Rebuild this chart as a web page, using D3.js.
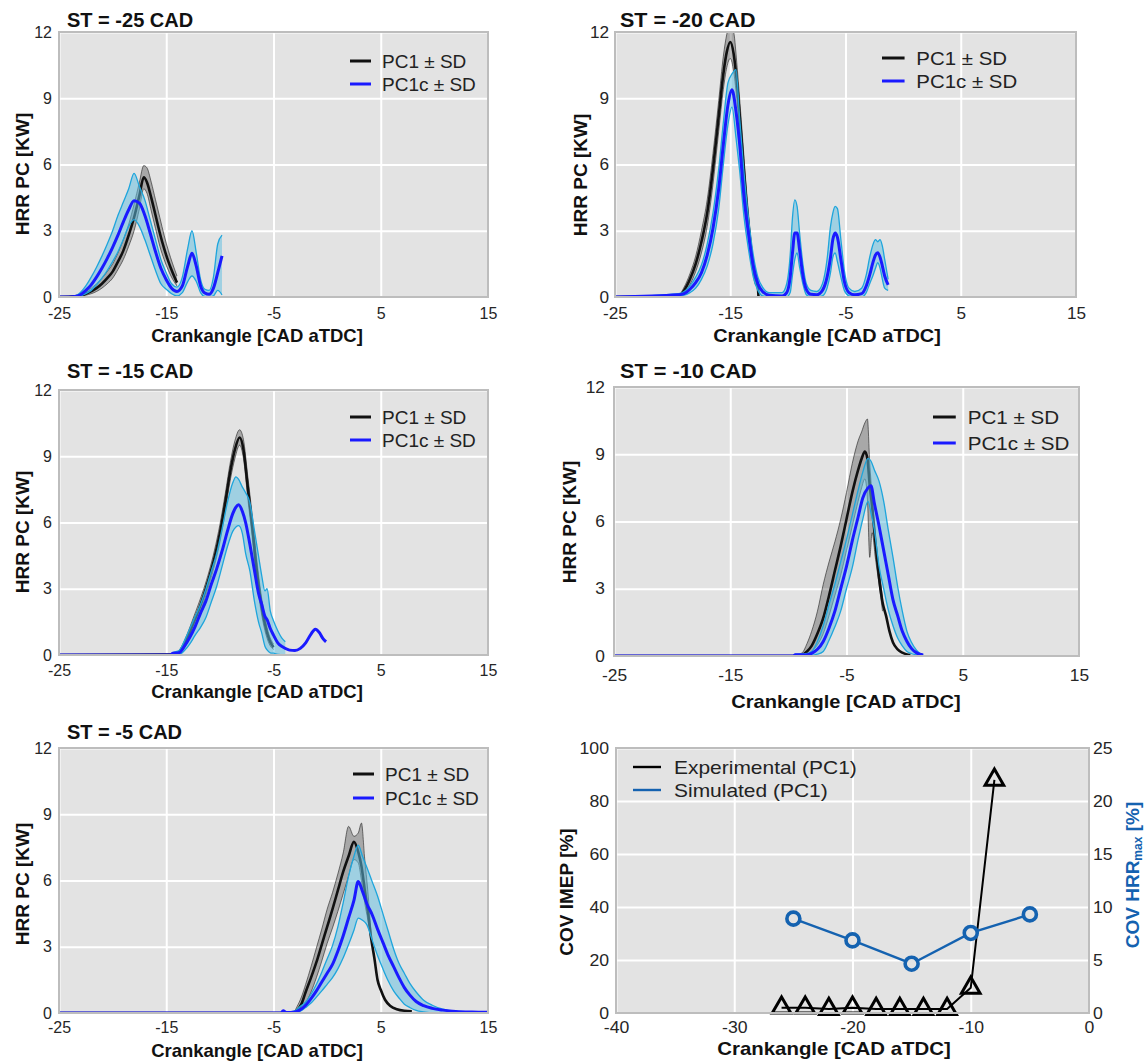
<!DOCTYPE html>
<html>
<head>
<meta charset="utf-8">
<script src="https://d3js.org/d3.v7.min.js"></script>
<style>
  body { margin: 0; background: #fff; }
  svg text { font-family: "Liberation Sans", Arial, sans-serif; }
</style>
</head>
<body>
<svg id="fig" width="1148" height="1062"></svg>
<script>
// ---- tick values / labels ----
const hrrTicksX = [-25, -15, -5, 5, 15];
const hrrTicksY = [0, 3, 6, 9, 12];
const covTicksX = [-40, -30, -20, -10, 0];
const covTicksL = [0, 20, 40, 60, 80, 100];
const covTicksR = [0, 5, 10, 15, 20, 25];
const stTitles = ["ST = -25 CAD", "ST = -20 CAD", "ST = -15 CAD", "ST = -10 CAD", "ST = -5 CAD"];
const hrrLegend = ["PC1 \u00b1 SD", "PC1c \u00b1 SD"];
const covLegend = ["Experimental (PC1)", "Simulated (PC1)"];

// ---- ST = -25 ----
const x25a = [-25, -23.5, -22.5, -21.5, -21, -20.5, -20, -19.5, -19, -18.5, -18, -17.5, -17.1, -16.8, -16.4, -16, -15.6, -15.2, -14.8, -14.4, -14];
const mean25a = [0, 0.03, 0.15, 0.4, 0.6, 0.85, 1.15, 1.6, 2.1, 2.8, 3.6, 4.6, 5.42, 5.2, 4.5, 3.7, 2.9, 2.2, 1.6, 1.1, 0.65];
const hi25a = [0, 0.05, 0.25, 0.6, 0.85, 1.15, 1.5, 2.0, 2.6, 3.3, 4.2, 5.2, 5.95, 5.85, 5.2, 4.4, 3.6, 2.8, 2.1, 1.5, 0.95];
const lo25a = [0, 0.01, 0.08, 0.25, 0.4, 0.6, 0.85, 1.25, 1.7, 2.3, 3.0, 4.0, 4.9, 4.7, 3.9, 3.1, 2.3, 1.7, 1.2, 0.8, 0.5];
const x25c = [-25, -24, -23.5, -23, -22.5, -22, -21.5, -21, -20.5, -20, -19.5, -19, -18.5, -18, -17.5, -17, -16.5, -16, -15.5, -15, -14.5, -14, -13.5, -13, -12.6, -12.2, -11.8, -11.4, -11, -10.6, -10.2, -9.8];
const mean25c = [0, 0, 0.02, 0.1, 0.3, 0.55, 0.9, 1.3, 1.75, 2.25, 2.8, 3.4, 3.95, 4.36, 4.25, 3.7, 2.9, 2.05, 1.3, 0.78, 0.4, 0.25, 0.5, 1.4, 1.98, 1.4, 0.5, 0.18, 0.12, 0.4, 1.1, 1.86];
const hi25c = [0, 0, 0.04, 0.2, 0.5, 0.9, 1.35, 1.85, 2.4, 3.0, 3.7, 4.3, 4.9, 5.6, 5.0, 4.4, 3.5, 2.6, 1.7, 1.1, 0.6, 0.45, 0.9, 2.2, 3.0, 2.0, 0.8, 0.35, 0.3, 0.9, 2.4, 2.8];
const lo25c = [0, 0, 0.01, 0.05, 0.15, 0.3, 0.55, 0.85, 1.2, 1.6, 2.05, 2.6, 3.2, 3.5, 3.2, 2.6, 1.9, 1.2, 0.6, 0.35, 0.15, 0.05, 0.2, 0.7, 0.95, 0.7, 0.2, 0.02, 0, 0.05, 0.3, 0.1];

// ---- ST = -20 ----
const x20a = [-25, -19.5, -19, -18.5, -18, -17.5, -17, -16.5, -16, -15.6, -15.3, -15, -14.7, -14.4, -14, -13.6, -13.2, -12.9, -12.6, -12.55];
const mean20a = [0, 0.05, 0.3, 0.8, 1.5, 2.5, 3.8, 5.8, 8.2, 10.1, 11.1, 11.55, 11.0, 9.6, 7.0, 4.3, 2.2, 1.0, 0.45, 0];
const hi20a = [0, 0.08, 0.45, 1.05, 1.85, 3.0, 4.4, 6.5, 8.9, 10.9, 11.9, 12.4, 12.0, 10.4, 7.7, 4.9, 2.6, 1.3, 0.6, 0];
const lo20a = [0, 0.02, 0.18, 0.55, 1.15, 2.0, 3.2, 5.1, 7.5, 9.4, 10.4, 10.8, 10.2, 8.8, 6.3, 3.7, 1.8, 0.7, 0.3, 0];
const x20c = [-25, -19.5, -19, -18.5, -18, -17.5, -17, -16.5, -16, -15.6, -15.2, -14.85, -14.5, -14.2, -13.8, -13.4, -13.0, -12.6, -12.2, -11.6,
  -10.5, -10.1, -9.8, -9.6, -9.4, -9.2, -9.0, -8.7, -8.4, -8.0,
  -7.5, -7.0, -6.6, -6.3, -6.1, -5.9, -5.7, -5.4, -5.1, -4.7,
  -4.2, -3.6, -3.2, -2.9, -2.6, -2.4, -2.2, -2.0, -1.8, -1.6, -1.3];
const mean20c = [0, 0.1, 0.15, 0.35, 0.65, 1.1, 1.9, 3.1, 4.9, 6.9, 8.7, 9.38, 8.4, 7.0, 4.5, 2.8, 1.4, 0.6, 0.25, 0.08,
  0.05, 0.2, 0.9, 2.0, 2.9, 2.9, 2.2, 1.0, 0.35, 0.12,
  0.1, 0.3, 0.9, 1.8, 2.6, 2.9, 2.7, 1.7, 0.7, 0.2,
  0.1, 0.15, 0.5, 1.0, 1.6, 1.9, 2.0, 1.8, 1.4, 0.95, 0.55];
const hi20c = [0, 0.15, 0.25, 0.5, 0.9, 1.45, 2.4, 3.8, 5.8, 7.9, 9.7, 10.1, 10.3, 8.2, 5.6, 3.5, 1.9, 0.9, 0.45, 0.2,
  0.2, 0.6, 1.9, 3.6, 4.4, 4.1, 3.0, 1.5, 0.6, 0.3,
  0.25, 0.6, 1.7, 3.2, 3.8, 4.1, 4.0, 2.6, 1.2, 0.4,
  0.25, 0.4, 1.0, 1.8, 2.4, 2.6, 2.5, 2.6, 2.3, 1.7, 0.8];
const lo20c = [0, 0.05, 0.08, 0.2, 0.4, 0.8, 1.4, 2.4, 4.0, 6.0, 7.8, 8.6, 7.2, 5.8, 3.6, 2.1, 0.9, 0.3, 0.05, 0,
  0, 0, 0.2, 1.0, 1.7, 2.0, 1.4, 0.6, 0.1, 0,
  0, 0.05, 0.4, 1.1, 1.8, 2.0, 1.6, 0.9, 0.3, 0.05,
  0, 0, 0.2, 0.6, 1.0, 1.3, 1.55, 1.3, 0.8, 0.4, 0.3];

// ---- ST = -15 ----
const x15a = [-25, -14.2, -13.5, -13, -12.5, -12, -11.5, -11, -10.5, -10, -9.5, -9, -8.6, -8.16, -7.8, -7.4, -7, -6.6, -6.2, -5.8, -5.4, -5.0];
const mean15a = [0, 0.02, 0.3, 0.8, 1.4, 2.0, 2.7, 3.5, 4.4, 5.5, 6.9, 8.4, 9.3, 9.85, 9.3, 7.6, 5.9, 4.0, 2.5, 1.4, 0.7, 0.35];
const hi15a = [0, 0.04, 0.45, 1.0, 1.65, 2.3, 3.0, 3.8, 4.75, 5.9, 7.3, 8.8, 9.7, 10.2, 9.75, 8.1, 6.4, 4.5, 2.9, 1.7, 0.9, 0.5];
const lo15a = [0, 0.01, 0.18, 0.6, 1.15, 1.7, 2.4, 3.2, 4.05, 5.1, 6.5, 8.0, 8.9, 9.5, 8.9, 7.1, 5.4, 3.5, 2.1, 1.1, 0.5, 0.25];
const x15c = [-25, -14.6, -14.4, -13.8, -13.3, -12.8, -12.3, -11.8, -11.3, -10.8,
  -10.3, -9.8, -9.3, -8.8, -8.5, -8.25, -7.9, -7.6, -7.2, -6.8,
  -6.4, -6.1, -5.8, -5.6, -5.3, -5.0, -4.6, -4.2, -3.9, -3.5,
  -3.0, -2.5, -2.0, -1.5, -1.1, -0.7, -0.4, -0.1];
const mean15c = [0, 0, 0.08, 0.1, 0.4, 0.8, 1.3, 1.9, 2.45, 3.2,
  3.9, 4.7, 5.6, 6.4, 6.7, 6.8, 6.5, 6.0, 5.0, 3.9,
  2.8, 2.3, 1.75, 1.6, 1.2, 0.9, 0.55, 0.38, 0.3, 0.22,
  0.2, 0.3, 0.55, 0.95, 1.17, 1.0, 0.75, 0.6];
const hi15c = [0, 0, 0.1, 0.2, 0.65, 1.2, 1.75, 2.3, 3.0, 3.8,
  4.6, 5.7, 6.9, 7.8, 8.07, 7.95, 7.6, 7.35, 6.9, 5.7,
  4.5, 3.6, 2.9, 3.0, 2.0, 1.55, 1.1, 0.75, 0.6, null,
  null, null, null, null, null, null, null, null];
const lo15c = [0, 0, 0.05, 0.03, 0.2, 0.5, 0.9, 1.25, 1.7, 2.4,
  3.1, 4.0, 4.9, 5.6, 5.8, 5.86, 5.5, 4.6, 3.8, 2.5,
  1.5, 1.0, 0.4, 0.23, 0.1, 0.08, 0.03, 0, 0, null,
  null, null, null, null, null, null, null, null];

// ---- ST = -10 ----
const x10a = [-25, -9.5, -8.8, -8.4, -8.0, -7.5, -7.0, -6.5, -6.0, -5.5,
  -5.0, -4.5, -4.0, -3.7, -3.42, -3.2, -3.0, -2.8, -2.5, -2.2,
  -1.9, -1.6, -1.3, -1.0, -0.6, -0.2, 0.2, 0.5];
const mean10a = [0, 0, 0.05, 0.2, 0.45, 1.0, 1.7, 2.7, 3.8, 4.9,
  6.1, 7.3, 8.3, 8.8, 9.12, 8.8, 7.6, 6.7, 5.0, 3.5,
  2.4, 1.8, 1.1, 0.6, 0.3, 0.15, 0.07, 0.05];
const hi10a = [0, 0, 0.15, 0.55, 1.1, 2.0, 3.2, 4.2, 5.1, 6.1,
  7.3, 8.6, 9.6, 10.0, 10.4, 10.57, 8.6, 7.2, 5.3, 3.9,
  2.6, null, null, null, null, null, null, null];
const lo10a = [0, 0, 0, 0.05, 0.2, 0.5, 1.0, 1.8, 2.7, 3.6,
  4.7, 5.8, 6.9, 7.5, 7.9, 7.0, 4.4, 5.5, 4.3, 3.2,
  2.0, null, null, null, null, null, null, null];
const x10c = [-25, -9.6, -9.4, -8.5, -8.0, -7.5, -7.0, -6.5, -6.0, -5.5,
  -5.0, -4.5, -4.0, -3.6, -3.15, -2.9, -2.6, -2.2, -1.8, -1.4,
  -1.0, -0.6, -0.2, 0.2, 0.6, 1.0, 1.3, 1.6];
const mean10c = [0, 0, 0.06, 0.05, 0.12, 0.3, 0.65, 1.25, 2.0, 3.0,
  4.0, 5.15, 6.2, 7.05, 7.5, 7.6, 6.8, 5.8, 4.7, 3.6,
  2.5, 1.8, 1.1, 0.65, 0.33, 0.15, 0.08, 0.05];
const hi10c = [0, 0, 0.08, 0.1, 0.2, 0.65, 1.35, 2.3, 3.2, 4.2,
  5.2, 6.3, 7.4, 8.2, 8.82, 8.7, 8.3, 7.8, 6.9, 5.6,
  4.4, 3.1, 2.0, 1.1, 0.6, 0.27, 0.12, 0.05];
const lo10c = [0, 0, 0.04, 0.02, 0.03, 0.08, 0.2, 0.7, 1.3, 2.0,
  3.0, 3.95, 5.2, 6.1, 6.9, 6.4, 5.6, 4.0, 3.0, 2.05,
  1.35, 0.8, 0.45, 0.2, 0.1, 0.05, 0.03, 0];

// ---- ST = -5 ----
const x5a = [-25, -3.2, -2.8, -2.4, -2.0, -1.5, -1.0, -0.5, 0, 0.5,
  1.0, 1.5, 2.0, 2.5, 2.9, 3.2, 3.5, 3.8, 4.1, 4.4,
  4.7, 5.0, 5.4, 5.9, 6.5, 7.2, 7.9];
const mean5a = [0, 0, 0.12, 0.4, 0.95, 1.6, 2.3, 3.1, 3.9, 4.7,
  5.55, 6.4, 7.1, 7.75, 7.3, 6.65, 5.6, 4.6, 3.4, 2.5,
  1.5, 1.05, 0.6, 0.32, 0.17, 0.1, 0.08];
const hi5a = [0, 0, 0.3, 0.72, 1.3, 2.1, 2.95, 3.8, 4.7, 5.45,
  6.3, 7.25, 8.45, 8.0, 8.15, 8.6, 7.0, 5.5, 3.6, null,
  null, null, null, null, null, null, null];
const lo5a = [0, 0, 0.05, 0.2, 0.45, 0.95, 1.6, 2.35, 3.15, 3.85,
  4.6, 5.4, 6.2, 6.95, 6.8, 6.0, 5.0, 4.2, 3.3, null,
  null, null, null, null, null, null, null];
const x5c = [-25, -4.3, -4.1, -3.8, -3.0, -2.5, -2.0, -1.5, -1.0, -0.5,
  0, 0.5, 1.0, 1.5, 2.0, 2.5, 2.9, 3.3, 3.7, 4.2,
  4.7, 5.2, 5.7, 6.2, 6.7, 7.2, 7.7, 8.3, 9.0, 9.8,
  10.8, 12, 13.5, 15];
const mean5c = [0, 0, 0.1, 0.02, 0.05, 0.15, 0.35, 0.65, 1.0, 1.4,
  1.8, 2.2, 2.8, 3.5, 4.3, 5.1, 5.95, 5.5, 4.95, 4.45,
  3.8, 3.2, 2.6, 2.1, 1.6, 1.15, 0.82, 0.52, 0.33, 0.21,
  0.13, 0.07, 0.04, 0.03];
const hi5c = [0, 0, 0.1, 0.04, 0.1, 0.3, 0.5, 0.85, 1.3, 1.85,
  2.45, 3.05, 3.9, 5.0, 6.2, 7.1, 7.6, 7.1, 6.6, 5.95,
  5.3, 4.5, 3.7, 2.9, 2.25, 1.8, 1.35, 0.95, 0.58, 0.35,
  0.17, 0.08, 0.05, 0.04];
const lo5c = [0, 0, 0.05, 0, 0.02, 0.08, 0.25, 0.45, 0.72, 1.0,
  1.3, 1.6, 2.0, 2.5, 3.1, 3.75, 4.3, 4.2, 4.0, 3.3,
  2.6, 2.0, 1.45, 1.0, 0.68, 0.4, 0.25, 0.12, 0.05, 0,
  0, 0, 0, 0];

// ---- COV panel ----
const expX = [-26, -24, -22, -20, -18, -16, -14, -12, -10, -8];
const expCov = [2, 2, 1.5, 2, 1.5, 1.5, 1.5, 1.5, 9.5, 88];
const simX = [-25, -20, -15, -10, -5];
const simCov = [8.9, 6.85, 4.65, 7.55, 9.3];

const BG = "#e3e3e3";
const FRAME = "#bdbdbd";
const SIM_BLUE = "#1462b0";

const svg = d3.select("#fig");
let clipCount = 0;

const hrrPanels = [
  { title: stTitles[0], left: 59, right: 488, top: 32, bottom: 297, tx: 67, ty: 27, ylx: 29, yly: 174, xlx: 257, xly: 342, xpad: 11, ypad: 7, lgx: 350, lgy: 61, lgdy: 23,
    pc1: { x: x25a, mean: mean25a, lo: lo25a, hi: hi25a }, pc1c: { x: x25c, mean: mean25c, lo: lo25c, hi: hi25c } },
  { title: stTitles[1], left: 615, right: 1076, top: 32, bottom: 297, tx: 620, ty: 27, ylx: 587, yly: 175, xlx: 827, xly: 342, xpad: 11, ypad: 6, lgx: 882, lgy: 58, lgdy: 23,
    pc1: { x: x20a, mean: mean20a, lo: lo20a, hi: hi20a }, pc1c: { x: x20c, mean: mean20c, lo: lo20c, hi: hi20c } },
  { title: stTitles[2], left: 59, right: 488, top: 390, bottom: 655, tx: 67, ty: 378, ylx: 29, yly: 532, xlx: 257, xly: 698, xpad: 10, ypad: 7, lgx: 350, lgy: 417, lgdy: 23,
    pc1: { x: x15a, mean: mean15a, lo: lo15a, hi: hi15a }, pc1c: { x: x15c, mean: mean15c, lo: lo15c, hi: hi15c } },
  { title: stTitles[3], left: 614, right: 1079, top: 387, bottom: 656, tx: 620, ty: 378, ylx: 576, yly: 522, xlx: 846, xly: 708, xpad: 14, ypad: 9, lgx: 933, lgy: 417, lgdy: 26,
    pc1: { x: x10a, mean: mean10a, lo: lo10a, hi: hi10a }, pc1c: { x: x10c, mean: mean10c, lo: lo10c, hi: hi10c } },
  { title: stTitles[4], left: 59, right: 488, top: 748, bottom: 1013, tx: 67, ty: 739, ylx: 29, yly: 884, xlx: 257, xly: 1057, xpad: 9, ypad: 7, lgx: 353, lgy: 774, lgdy: 24,
    pc1: { x: x5a, mean: mean5a, lo: lo5a, hi: hi5a }, pc1c: { x: x5c, mean: mean5c, lo: lo5c, hi: hi5c } }
];

// widen text horizontally like the stretched right column of the figure
function widen(sel, k) {
  if (Math.abs(k - 1) < 0.01) return;
  sel.each(function () {
    const w = this.getComputedTextLength();
    d3.select(this).attr("textLength", w * k).attr("lengthAdjust", "spacingAndGlyphs");
  });
}

function styleAxis(a, size) {
  a.select(".domain").remove();
  a.selectAll(".tick line").attr("stroke", "#fff").attr("stroke-width", 2);
  a.selectAll(".tick text").attr("fill", "#262626").attr("font-size", size)
    .attr("font-family", "'Liberation Sans', Arial, sans-serif");
}

function plotBox(g, p) {
  g.append("rect").attr("x", p.left).attr("y", p.top)
    .attr("width", p.right - p.left).attr("height", p.bottom - p.top).attr("fill", BG);
}

function frame(g, p) {
  g.append("rect").attr("x", p.left).attr("y", p.top)
    .attr("width", p.right - p.left).attr("height", p.bottom - p.top)
    .attr("fill", "none").attr("stroke", FRAME).attr("stroke-width", 2);
}

function clipGroup(g, p) {
  const id = "clip" + (clipCount++);
  g.append("clipPath").attr("id", id).append("rect")
    .attr("x", p.left).attr("y", p.top).attr("width", p.right - p.left).attr("height", p.bottom - p.top);
  return g.append("g").attr("clip-path", "url(#" + id + ")");
}

function drawBand(plot, x, y, s, fill, edge, edgeW) {
  const band = s.x.map((v, i) => ({ x: v, lo: s.lo[i], hi: s.hi[i] })).filter(d => d.hi != null);
  plot.append("path").datum(band)
    .attr("d", d3.area().curve(d3.curveMonotoneX).x(d => x(d.x)).y0(d => y(d.lo)).y1(d => y(d.hi)))
    .attr("fill", fill);
  ["lo", "hi"].forEach(key => {
    plot.append("path").datum(band)
      .attr("d", d3.line().curve(d3.curveMonotoneX).x(d => x(d.x)).y(d => y(d[key])))
      .attr("fill", "none").attr("stroke", edge).attr("stroke-width", edgeW);
  });
}

function drawMean(plot, x, y, s, color, w) {
  const pts = s.x.map((v, i) => [v, s.mean[i]]);
  plot.append("path").datum(pts)
    .attr("d", d3.line().curve(d3.curveMonotoneX).x(d => x(d[0])).y(d => y(d[1])))
    .attr("fill", "none").attr("stroke", color).attr("stroke-width", w)
    .attr("stroke-linejoin", "round");
}

function drawHrr(p) {
  const g = svg.append("g");
  const w = p.right - p.left, h = p.bottom - p.top;
  const k = w / 429;
  const x = d3.scaleLinear().domain([-25, 15]).range([p.left, p.right]);
  const y = d3.scaleLinear().domain([0, 12]).range([p.bottom, p.top]);

  plotBox(g, p);
  const gx = g.append("g").attr("transform", `translate(0,${p.bottom})`)
    .call(d3.axisBottom(x).tickValues(hrrTicksX).tickSize(-h).tickPadding(p.xpad).tickFormat(d => d));
  const gy = g.append("g").attr("transform", `translate(${p.left},0)`)
    .call(d3.axisLeft(y).tickValues(hrrTicksY).tickSize(-w).tickPadding(p.ypad).tickFormat(d => d));
  styleAxis(gx, 16); styleAxis(gy, 16);
  widen(gx.selectAll(".tick text"), k);
  widen(gy.selectAll(".tick text"), k);

  const plot = clipGroup(g, p);
  drawBand(plot, x, y, p.pc1, "rgba(0,0,0,0.26)", "rgba(30,30,30,0.6)", 1);
  drawMean(plot, x, y, p.pc1, "#111", 2.6);
  drawBand(plot, x, y, p.pc1c, "rgba(95,190,225,0.52)", "#1ea5dc", 1.3);
  drawMean(plot, x, y, p.pc1c, "#1a1aff", 3);

  frame(g, p);

  // legend
  const legColors = ["#111", "#1a1aff"];
  hrrLegend.forEach((t, i) => {
    const yy = p.lgy + i * p.lgdy;
    g.append("line").attr("x1", p.lgx).attr("x2", p.lgx + 21 * k).attr("y1", yy).attr("y2", yy)
      .attr("stroke", legColors[i]).attr("stroke-width", 3);
    const tt = g.append("text").attr("x", p.lgx + 32 * k).attr("y", yy).attr("dy", "0.36em")
      .attr("font-size", 19).attr("fill", "#222").text(t);
    widen(tt, k);
  });

  const title = g.append("text").attr("x", p.tx).attr("y", p.ty).attr("font-size", 20)
    .attr("font-weight", "bold").attr("fill", "#111").text(p.title);
  widen(title, k);
  const xl = g.append("text").attr("x", p.xlx).attr("y", p.xly).attr("text-anchor", "middle")
    .attr("font-size", 18.5).attr("font-weight", "bold").attr("fill", "#111").text("Crankangle [CAD aTDC]");
  widen(xl, k);
  g.append("text").attr("transform", `translate(${p.ylx},${p.yly}) rotate(-90)`)
    .attr("text-anchor", "middle").attr("font-size", 19).attr("font-weight", "bold")
    .attr("fill", "#111").text("HRR PC [KW]");
}

function drawCov() {
  const p = { left: 616, right: 1089, top: 748, bottom: 1013 };
  const g = svg.append("g");
  const w = p.right - p.left, h = p.bottom - p.top;
  const k = w / 429;
  const x = d3.scaleLinear().domain([-40, 0]).range([p.left, p.right]);
  const yL = d3.scaleLinear().domain([0, 100]).range([p.bottom, p.top]);
  const yR = d3.scaleLinear().domain([0, 25]).range([p.bottom, p.top]);

  plotBox(g, p);
  const gx = g.append("g").attr("transform", `translate(0,${p.bottom})`)
    .call(d3.axisBottom(x).tickValues(covTicksX).tickSize(-h).tickPadding(9).tickFormat(d => d));
  const gy = g.append("g").attr("transform", `translate(${p.left},0)`)
    .call(d3.axisLeft(yL).tickValues(covTicksL).tickSize(-w).tickPadding(7).tickFormat(d => d));
  const gr = g.append("g").attr("transform", `translate(${p.right},0)`)
    .call(d3.axisRight(yR).tickValues(covTicksR).tickSize(0).tickPadding(4).tickFormat(d => d));
  styleAxis(gx, 16); styleAxis(gy, 16); styleAxis(gr, 16);
  gr.selectAll(".tick line").remove();
  widen(gx.selectAll(".tick text"), k);
  widen(gy.selectAll(".tick text"), k);
  widen(gr.selectAll(".tick text"), k);

  const plot = g.append("g");
  const exp = expX.map((v, i) => [v, expCov[i]]);
  const sim = simX.map((v, i) => [v, simCov[i]]);

  plot.append("path").datum(exp)
    .attr("d", d3.line().x(d => x(d[0])).y(d => yL(d[1])))
    .attr("fill", "none").attr("stroke", "#000").attr("stroke-width", 2);
  plot.selectAll(".tri").data(exp).join("path").attr("class", "tri")
    .attr("transform", d => `translate(${x(d[0])},${yL(d[1])})`)
    .attr("d", d3.symbol(d3.symbolTriangle, 150))
    .attr("fill", "none").attr("stroke", "#000").attr("stroke-width", 3)
    .attr("stroke-linejoin", "miter");

  plot.append("path").datum(sim)
    .attr("d", d3.line().x(d => x(d[0])).y(d => yR(d[1])))
    .attr("fill", "none").attr("stroke", SIM_BLUE).attr("stroke-width", 2.4);
  plot.selectAll(".circ").data(sim).join("circle").attr("class", "circ")
    .attr("cx", d => x(d[0])).attr("cy", d => yR(d[1])).attr("r", 6.5)
    .attr("fill", BG).attr("stroke", SIM_BLUE).attr("stroke-width", 3.6);

  frame(g, p);

  const legColors = ["#000", SIM_BLUE];
  covLegend.forEach((t, i) => {
    const yy = 767 + i * 23;
    g.append("line").attr("x1", 633).attr("x2", 661).attr("y1", yy).attr("y2", yy)
      .attr("stroke", legColors[i]).attr("stroke-width", 2.4);
    const tt = g.append("text").attr("x", 674).attr("y", yy).attr("dy", "0.36em")
      .attr("font-size", 19).attr("fill", "#222").text(t);
    widen(tt, k);
  });

  const xl = g.append("text").attr("x", 834).attr("y", 1055).attr("text-anchor", "middle")
    .attr("font-size", 18.5).attr("font-weight", "bold").attr("fill", "#111").text("Crankangle [CAD aTDC]");
  widen(xl, k);
  g.append("text").attr("transform", "translate(573,892) rotate(-90)")
    .attr("text-anchor", "middle").attr("font-size", 19).attr("font-weight", "bold")
    .attr("fill", "#111").text("COV IMEP [%]");
  const rl = g.append("text").attr("transform", "translate(1139,875) rotate(-90)")
    .attr("text-anchor", "middle").attr("font-size", 19).attr("font-weight", "bold")
    .attr("fill", SIM_BLUE);
  rl.append("tspan").text("COV HRR");
  rl.append("tspan").attr("font-size", 12).attr("dy", 3).text("max");
  rl.append("tspan").attr("dy", -3).text(" [%]");
}

hrrPanels.forEach(drawHrr);
drawCov();
</script>
</body>
</html>
